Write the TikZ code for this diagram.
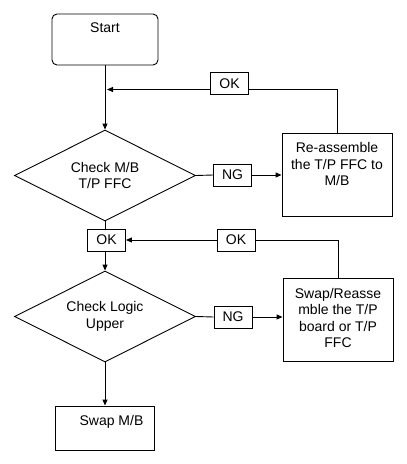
\documentclass[tikz,border=0pt]{standalone}
\usepackage{fontspec}
\setmainfont{Liberation Sans}
\usetikzlibrary{shapes.geometric,arrows.meta}

\begin{document}
\begin{tikzpicture}[x=1pt,y=-1pt,line width=0.9pt,
  font=\fontsize{14}{16.5}\selectfont,
  box/.style={draw,rectangle,inner sep=0pt},
  tag/.style={box,minimum width=38,minimum height=22},
  check/.style={draw,diamond,aspect=2,inner sep=0pt,minimum width=181,minimum height=91,align=center},
  txt/.style={anchor=north,inner sep=0pt,align=center},
  arr/.style={-{Triangle[length=6pt,width=5pt]}}]
\useasboundingbox (0,0) rectangle (407,464);

% Start box
\node[box,rounded corners=5pt,minimum width=106,minimum height=51,
  label={[txt,yshift=-9pt]north:Start}] (start) at (105,39.5) {};

% First check (M/B T/P FFC)
\node[check] (chk1) at (105,175.5) {Check M/B\\T/P FFC};
\node[tag] (ng1) at (232.5,175) {NG};
\node[box,minimum width=110,minimum height=83,
  label={[txt,yshift=-9.5pt]north:{Re-assemble\\the T/P FFC to\\M/B}}] (fix1) at (337,174.5) {};
\node[tag] (ok1) at (229.5,83.5) {OK};
\coordinate (m1) at (107,89.5);

% Second check (Logic Upper)
\node[tag] (ok2) at (106.5,240) {OK};
\node[tag] (ok3) at (236,240) {OK};
\node[check] (chk2) at (105,316.5) {Check Logic\\Upper};
\node[tag] (ng2) at (233,317) {NG};
\node[box,minimum width=110,minimum height=83,
  label={[txt,yshift=-10pt]north:{Swap/Reasse\\mble the T/P\\board or T/P\\FFC}}] (fix2) at (338,319.5) {};

% End box
\node[box,minimum width=99,minimum height=44,
  label={[txt,yshift=-9pt,xshift=7pt]north:Swap M/B}] (swap) at (104.5,428) {};

% connectors
\draw[arr] (start.south) -- (chk1.north);
\draw (fix1.north) |- ([yshift=-6pt]ok1.east);
\draw[arr] ([yshift=-6pt]ok1.west) -- (m1);
\draw (chk1.east) -- (ng1.west);
\draw[arr] (ng1.east) -- (ng1.east -| fix1.west);

\draw (chk1.south) -- (chk1.south |- ok2.north);
\draw[arr] (ok2.south -| chk2.north) -- (chk2.north);
\draw (fix2.north) |- (ok3.east);
\draw[arr] (ok3.west) -- (ok2.east);
\draw (chk2.east) -- (ng2.west);
\draw[arr] (ng2.east) -- (ng2.east -| fix2.west);
\draw[arr] (chk2.south) -- (chk2.south |- swap.north);
\end{tikzpicture}
\end{document}
